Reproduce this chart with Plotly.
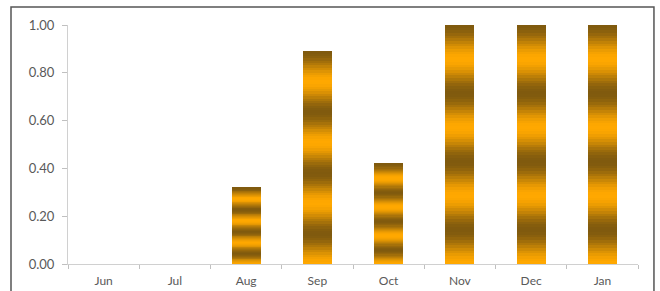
import math
import plotly.graph_objects as go

months = ["Jun", "Jul", "Aug", "Sep", "Oct", "Nov", "Dec", "Jan"]
values = [0.0, 0.0, 0.32, 0.89, 0.42, 1.00, 1.00, 1.00]
y_tick_vals = [0.0, 0.2, 0.4, 0.6, 0.8, 1.0]
y_tick_text = ["0.00", "0.20", "0.40", "0.60", "0.80", "1.00"]

# gradient styling (repeating gold/brown bands scaled to each bar)
LIGHT = (255, 168, 0)
DARK = (128, 90, 14)
CYCLES = 3.5
N_SEG = 90


def band_color(t_from_top):
    w = (1 - math.cos(2 * math.pi * CYCLES * t_from_top)) / 2  # 0 dark -> 1 light
    r, g, b = (round(DARK[i] + (LIGHT[i] - DARK[i]) * w) for i in range(3))
    return f"rgb({r},{g},{b})"


fig = go.Figure()
for k in range(N_SEG):
    t = 1 - (k + 0.5) / N_SEG
    fig.add_trace(go.Bar(
        x=months,
        y=[v / N_SEG for v in values],
        marker=dict(color=band_color(t), line=dict(width=0)),
        showlegend=False,
        hoverinfo="skip",
    ))

fig.update_layout(
    width=660, height=291,
    barmode="stack",
    bargap=0.59,
    plot_bgcolor="white",
    paper_bgcolor="white",
    margin=dict(l=68, r=22, t=25, b=27),
    font=dict(family="Lato, 'Open Sans', sans-serif", size=13, color="#595959"),
    xaxis=dict(
        type="category",
        showline=True, linecolor="#D0D0D0", linewidth=1,
        ticks="outside", tickson="boundaries", ticklen=4, tickcolor="#C0C0C0",
        showgrid=False, zeroline=False,
        tickfont=dict(size=12, color="#595959"),
        ticklabelstandoff=6,
        automargin=False,
        fixedrange=True,
    ),
    yaxis=dict(
        range=[0, 1.0],
        tickvals=y_tick_vals, ticktext=y_tick_text,
        showline=True, linecolor="#D0D0D0", linewidth=1,
        ticks="outside", ticklen=5, tickcolor="#C0C0C0",
        showgrid=False, zeroline=False,
        tickfont=dict(size=13, color="#595959"),
        ticklabelstandoff=5,
        automargin=False,
        fixedrange=True,
    ),
    shapes=[dict(
        type="rect", xref="paper", yref="paper",
        x0=-0.1, x1=1.028, y0=-0.25, y1=1.0753,
        line=dict(color="#555555", width=1.5),
        fillcolor="rgba(0,0,0,0)",
        layer="below",
    )],
)

fig.write_html(
    "out.html",
    config={"displayModeBar": False},
    post_script="document.body.style.margin='0px';document.body.style.overflow='hidden';",
)
